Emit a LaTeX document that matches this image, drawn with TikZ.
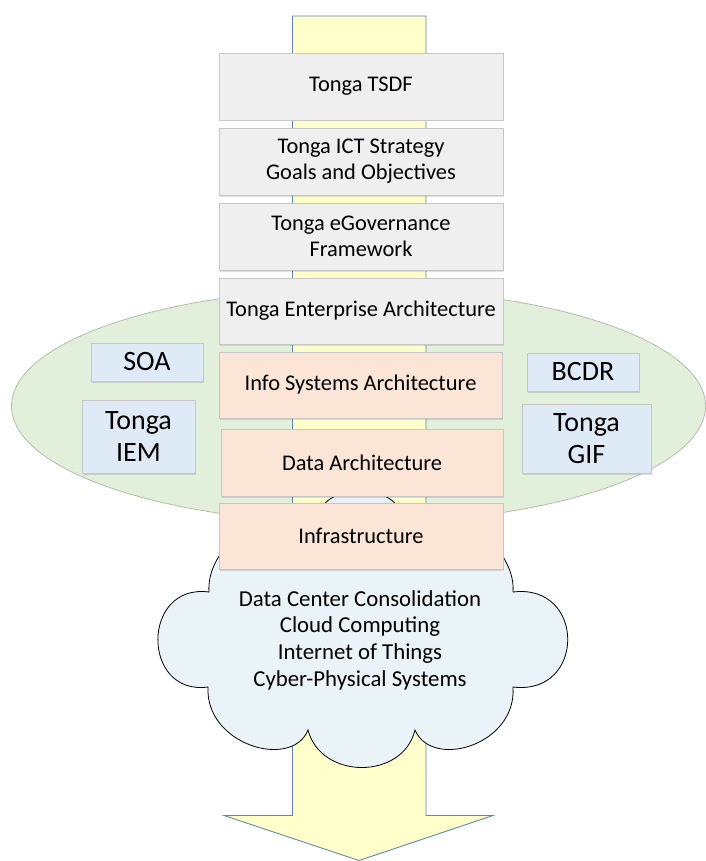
\documentclass[tikz,border=0pt]{standalone}
\usepackage{fontspec}
\setmainfont{Carlito}
\usetikzlibrary{shadows}
\definecolor{arrowfill}{HTML}{FFFFCC}
\definecolor{arrowline}{HTML}{5A86B8}
\definecolor{ellfill}{HTML}{E2EFDA}
\definecolor{ellline}{HTML}{B2BEAA}
\definecolor{grayfill}{HTML}{EFEFEF}
\definecolor{orangefill}{HTML}{FBE5D6}
\definecolor{bluefill}{HTML}{DEEBF7}
\definecolor{boxline}{HTML}{C6C6C6}
\definecolor{cloudfill}{HTML}{EAF3F7}
\tikzset{
  basebox/.style={draw=boxline, line width=0.8pt, inner sep=2pt, align=center,
    font=\fontsize{22.4}{26.3}\selectfont,
    drop shadow={shadow xshift=1pt, shadow yshift=-1.5pt, fill=black, opacity=0.12}},
  graybox/.style={basebox, fill=grayfill},
  orangebox/.style={basebox, fill=orangefill},
  sidebox/.style={basebox, fill=bluefill, font=\fontsize{28}{31.7}\selectfont},
  arrowst/.style={fill=arrowfill, draw=arrowline, line width=0.9pt, line join=miter},
  ellst/.style={fill=ellfill, draw=ellline, line width=0.8pt},
  cloudst/.style={fill=cloudfill, draw=black, line width=0.8pt},
  cloudtext/.style={align=center, font=\fontsize{22.8}{26.7}\selectfont, inner sep=0pt}
}
\begin{document}
\begin{tikzpicture}[x=1pt, y=-1pt]
\useasboundingbox (0,0) rectangle (705,861);
% ellipse
\path[ellst] (358.5,406) ellipse [x radius=347pt, y radius=117pt];
% big arrow
\path[arrowst] (292.5,16) -- (426,16) -- (426,815.5) -- (493,815.5) -- (359,860.5)
  -- (224,815.5) -- (292.5,815.5) -- cycle;
% cloud
\path[cloudst] (209,592)
 .. controls (141,583) and (141,696) .. (208,687)
 .. controls (205,745) and (292,770) .. (308,730)
 .. controls (321,780) and (403,780) .. (415,730)
 .. controls (432,770) and (517,745) .. (513,687)
 .. controls (586,696) and (586,583) .. (513,592)
 .. controls (516,555) and (470,505) .. (405,522)
 .. controls (398,480) and (322,480) .. (315,522)
 .. controls (250,505) and (206,555) .. (209,592) -- cycle;
\node[cloudtext] (cloudtxt) at (360,640) {Data Center Consolidation\\Cloud Computing\\Internet of Things\\Cyber-Physical Systems};
% stack boxes
\node[graybox, minimum width=284pt, minimum height=67pt] (tsdf) at (361,86.5) {Tonga TSDF};
\node[graybox, minimum width=284pt, minimum height=67pt] (ict) at (361,161.5) {Tonga ICT Strategy\\Goals and Objectives};
\node[graybox, minimum width=284pt, minimum height=67pt] (egov) at (361,236.5) {Tonga eGovernance\\Framework};
\node[graybox, minimum width=284pt, minimum height=66pt] (ea) at (361,311) {Tonga Enterprise Architecture};
\node[orangebox, minimum width=283pt, minimum height=66pt] (isa) at (360.5,385) {Info Systems Architecture};
\node[orangebox, minimum width=282pt, minimum height=67pt] (da) at (362,462.5) {Data Architecture};
\node[orangebox, minimum width=284pt, minimum height=66pt] (infra) at (361,536) {Infrastructure};
% side boxes
\node[sidebox, minimum width=112pt, minimum height=38pt] (soa) at (147,362) {SOA};
\node[sidebox, minimum width=113pt, minimum height=73pt] (iem) at (138.5,436.5) {Tonga\\IEM};
\node[sidebox, minimum width=112pt, minimum height=38pt] (bcdr) at (583,372) {BCDR};
\node[sidebox, minimum width=129pt, minimum height=69pt] (gif) at (586.5,438.5) {Tonga\\GIF};
\end{tikzpicture}
\end{document}
